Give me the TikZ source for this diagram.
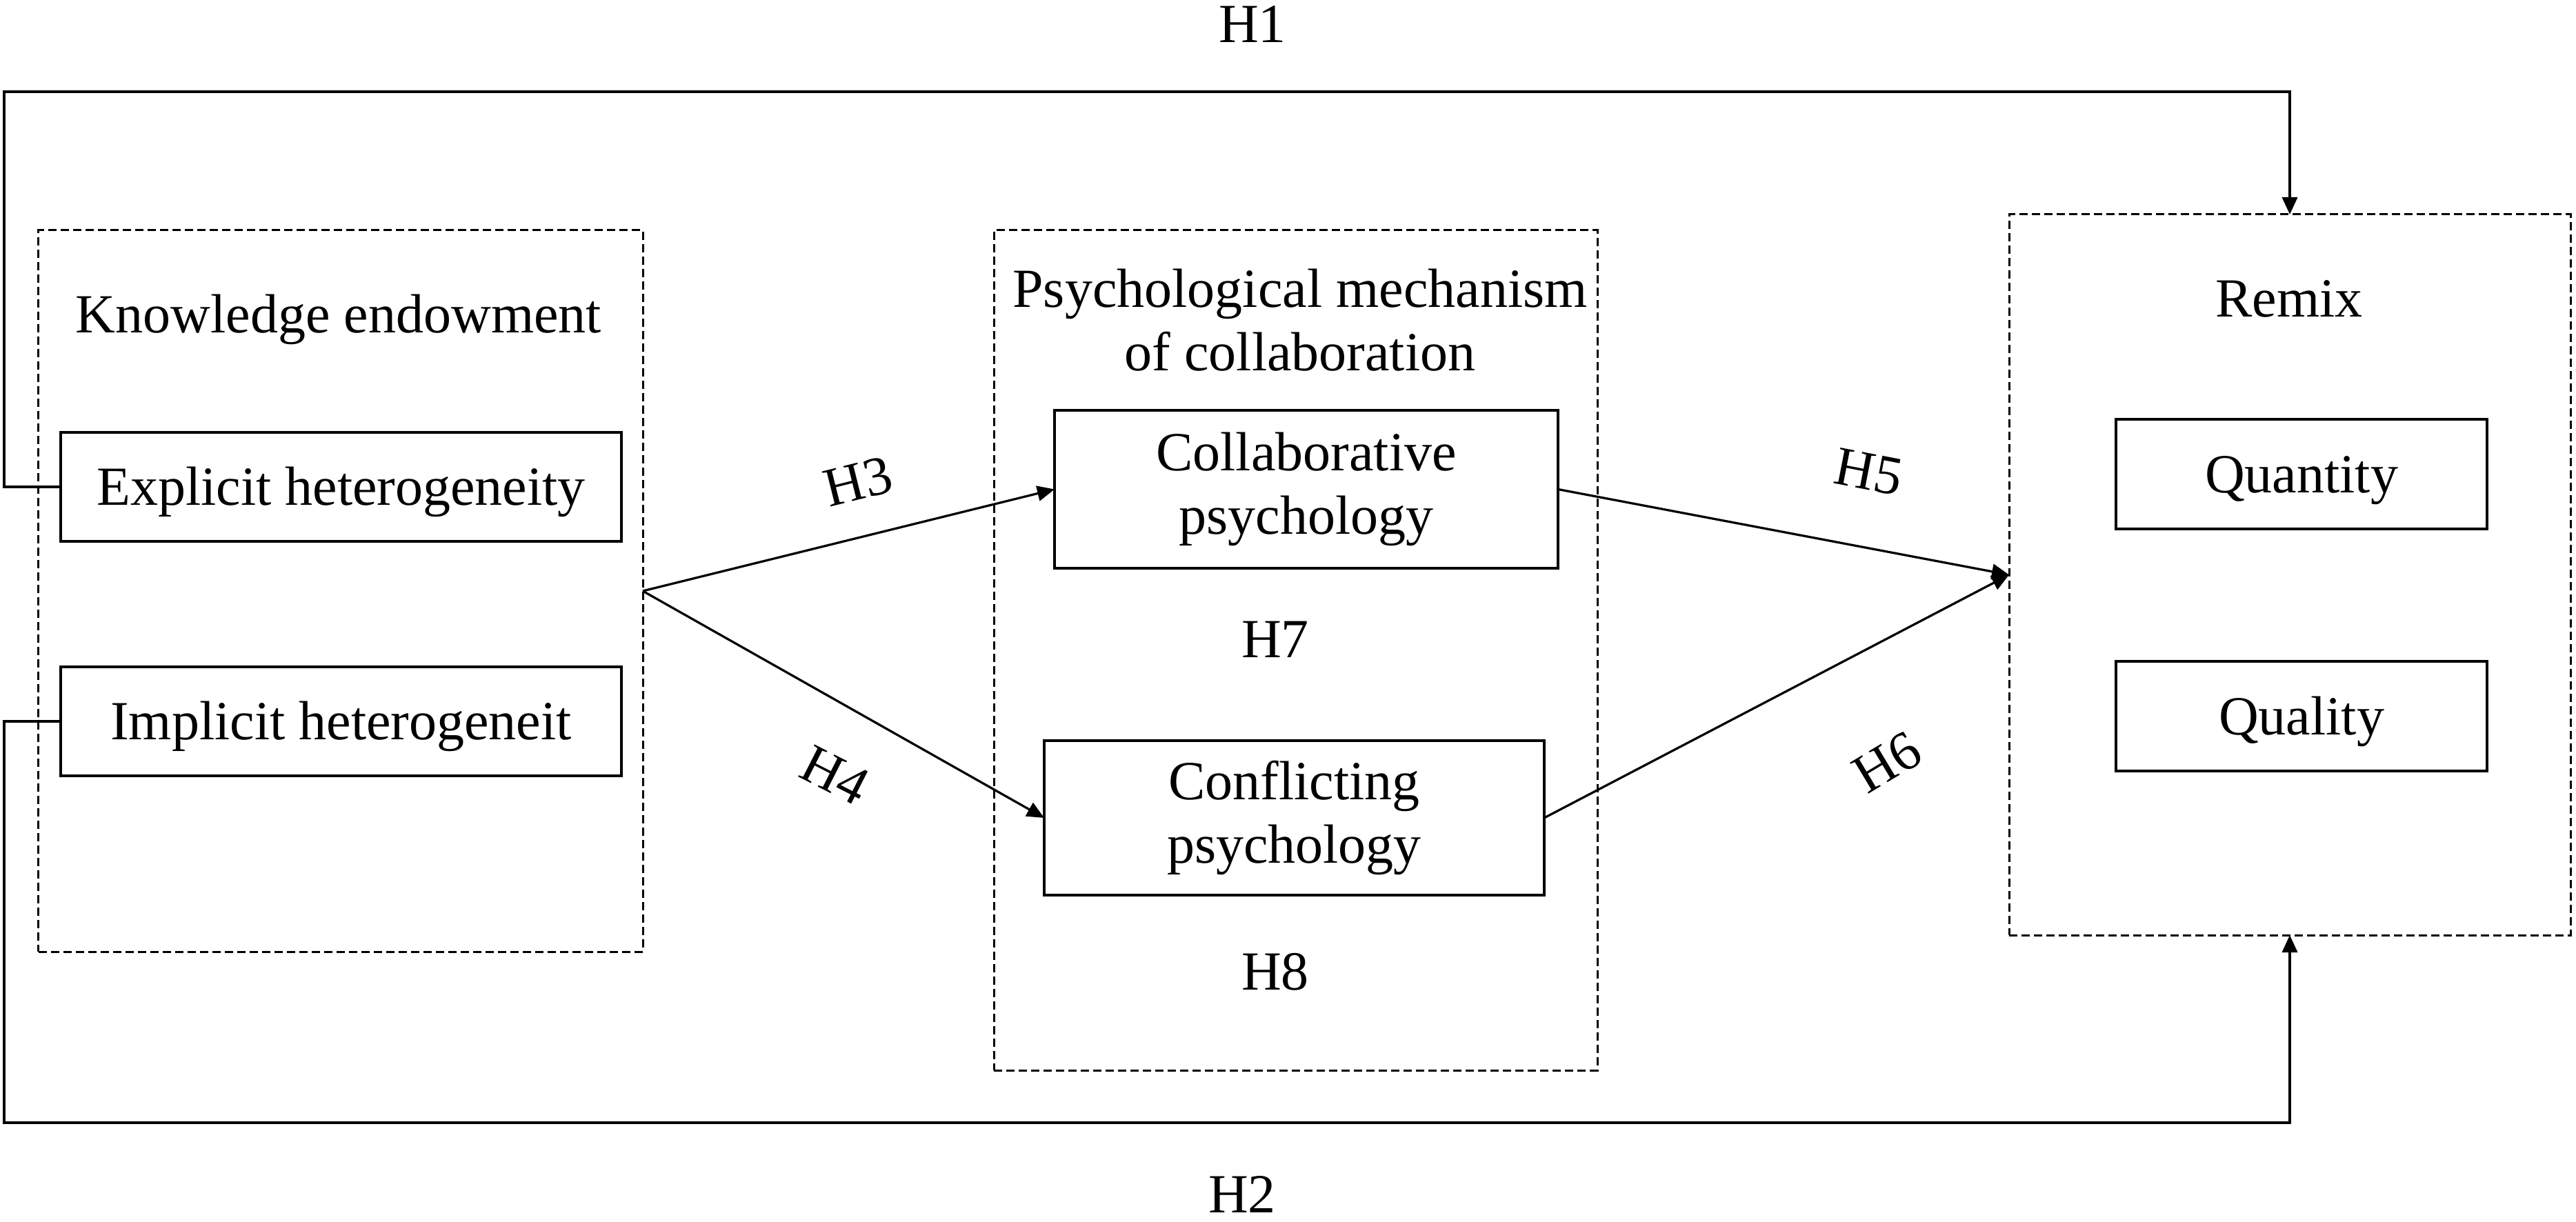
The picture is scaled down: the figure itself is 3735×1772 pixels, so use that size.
\documentclass[tikz,border=0pt]{standalone}
\usepackage{fontspec}
\setmainfont{Liberation Serif}
\usetikzlibrary{arrows.meta}
\begin{document}
\begin{tikzpicture}[x=0.2pt,y=-0.2pt,
  font=\fontsize{16pt}{18.4pt}\selectfont,
  group/.style={draw, dash pattern=on 2.4pt off 1.2pt, line width=0.6pt, inner sep=0pt, outer sep=0pt},
  item/.style={draw, line width=0.8pt, inner sep=0pt, outer sep=0pt},
  oneline/.style={text height=10.6pt, text depth=0pt},
  twoline/.style={align=center},
  conn/.style={line width=0.65pt, -{Triangle[length=5pt,width=4.4pt]}},
  route/.style={line width=0.75pt, -{Triangle[length=5pt,width=4.4pt]}},
  hlab/.style={inner sep=0pt, text height=10.6pt, text depth=0pt},
  title/.style={inner sep=0pt}]

\useasboundingbox (0,0) rectangle (3735,1772);

% group boxes
\node[group, minimum width=175.2pt, minimum height=209.2pt] (ke) at (494,857) {};
\node[group, minimum width=175pt, minimum height=243.6pt] (psy) at (1878.5,943) {};
\node[group, minimum width=162.8pt, minimum height=209pt] (remix) at (3320,833.5) {};

% titles
\node[title, anchor=base] (ket) at (491,482) {Knowledge endowment};
\node[title, anchor=north, align=center] (psyt) at (1885,389) {Psychological mechanism\\of collaboration};
\node[title, anchor=base] (remt) at (3319,460) {Remix};

% items
\node[item, oneline, minimum width=162.6pt, minimum height=31.6pt] (expl) at (494.5,706) {Explicit heterogeneity};
\node[item, oneline, minimum width=162.6pt, minimum height=31.6pt] (impl) at (494.5,1046) {Implicit heterogeneit};
\node[item, twoline, minimum width=146pt, minimum height=45.8pt] (collab) at (1894,709.5) {Collaborative\\psychology};
\node[item, twoline, minimum width=145pt, minimum height=44.8pt] (confl) at (1876.5,1186) {Conflicting\\psychology};
\node[item, oneline, minimum width=107.6pt, minimum height=31.8pt] (quant) at (3337,687.5) {Quantity};
\node[item, oneline, minimum width=107.6pt, minimum height=31.8pt] (qual) at (3337,1038.5) {Quality};

% connectors
\draw[conn] (ke.east) -- (collab.west);
\draw[conn] (ke.east) -- (confl.west);
\draw[conn] (collab.east) -- (remix.west);
\draw[conn] (confl.east) -- (remix.west);
\coordinate (tl) at (6,133);
\coordinate (bl) at (6,1628);
\draw[route] (expl.west) -| (tl) -| (remix.north);
\draw[route] (impl.west) -| (bl) -| (remix.south);

% hypothesis labels
\node[title, anchor=base] (h1) at (1816,62) {H1};
\node[title, anchor=base] (h2) at (1801,1758) {H2};
\node[hlab, rotate=14] (h3) at (1244,698) {H3};
\node[hlab, rotate=-27] (h4) at (1211,1124) {H4};
\node[hlab, rotate=-11] (h5) at (2710,684) {H5};
\node[hlab, rotate=31] (h6) at (2736,1105) {H6};
\node[title, anchor=base] (h7) at (1849,953) {H7};
\node[title, anchor=base] (h8) at (1849,1435) {H8};
\end{tikzpicture}
\end{document}
